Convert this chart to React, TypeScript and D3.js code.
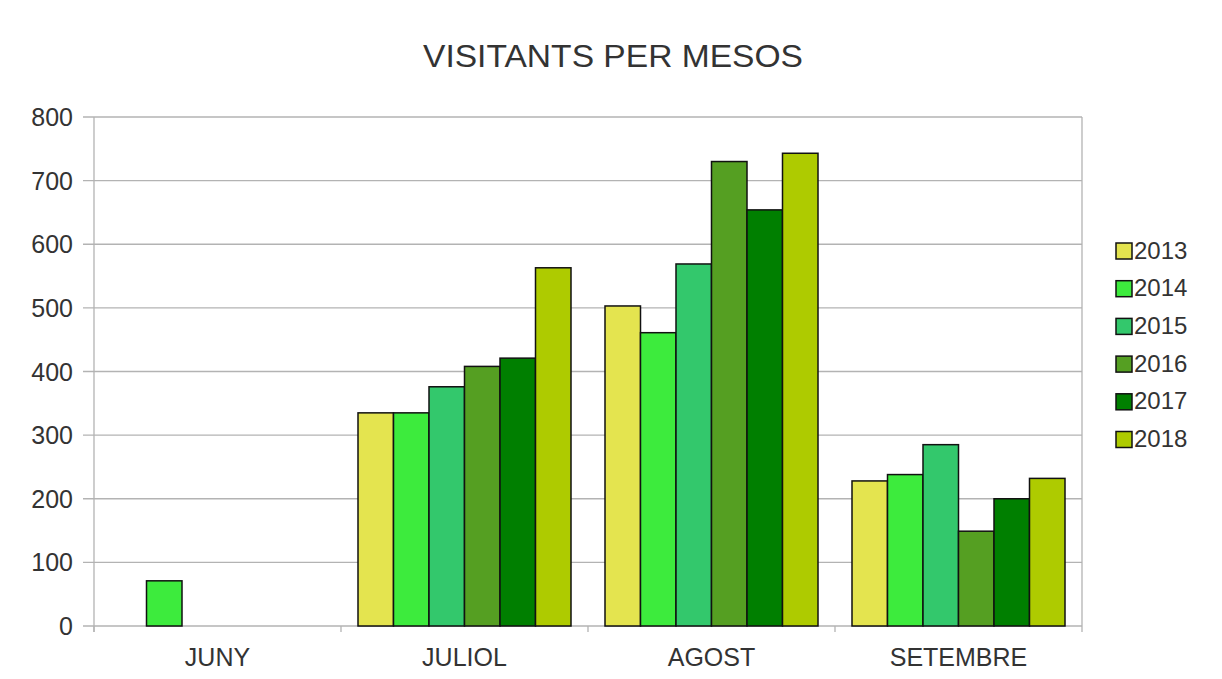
import React from 'react'
import * as d3 from 'd3'

const months = ['JUNY', 'JULIOL', 'AGOST', 'SETEMBRE']
const years = ['2013', '2014', '2015', '2016', '2017', '2018']
const colors = ['#e4e44f', '#3deb3d', '#33c86c', '#559f22', '#007f00', '#aecb00']

// visitants per any, un valor per mes (null = sense dada)
const v2013 = [null, 335, 503, 228]
const v2014 = [71, 335, 461, 238]
const v2015 = [null, 376, 569, 285]
const v2016 = [null, 408, 730, 149]
const v2017 = [null, 421, 654, 200]
const v2018 = [null, 563, 743, 232]
const series = [v2013, v2014, v2015, v2016, v2017, v2018]

const yTicks = [0, 100, 200, 300, 400, 500, 600, 700, 800]

const W = 1222
const H = 679
const margin = { top: 117, right: 140, bottom: 53, left: 94 }

export default function App() {
  const plotW = W - margin.left - margin.right
  const plotH = H - margin.top - margin.bottom

  const x = d3.scaleBand().domain(months).range([0, plotW]).paddingInner(0).paddingOuter(0)
  const inner = d3.scaleBand().domain(years).range([17, x.bandwidth() - 17])
  const y = d3.scaleLinear().domain([0, 800]).range([plotH, 0])

  const font = '"Liberation Sans", Arial, sans-serif'

  return (
    <svg width={W} height={H} style={{ position: 'absolute', left: 0, top: 0, background: '#fff' }}>
      <text x={613} y={67} textAnchor="middle" fontFamily={font} fontSize={32} fill="#333" textLength={380} lengthAdjust="spacingAndGlyphs">
        VISITANTS PER MESOS
      </text>
      <g transform={`translate(${margin.left},${margin.top})`}>
        {yTicks.map(t => (
          <g key={t}>
            <line x1={-11} x2={plotW} y1={y(t)} y2={y(t)} stroke="#b3b3b3" strokeWidth={1.3} />
            <text x={-21} y={y(t)} dy="0.36em" textAnchor="end" fontFamily={font} fontSize={25} fill="#333">
              {t}
            </text>
          </g>
        ))}
        <line x1={0} x2={0} y1={0} y2={plotH + 6} stroke="#b3b3b3" strokeWidth={1.3} />
        <line x1={plotW} x2={plotW} y1={0} y2={plotH + 6} stroke="#b3b3b3" strokeWidth={1.3} />
        {months.map(m => (
          <g key={m}>
            <line x1={x(m)!} x2={x(m)!} y1={plotH} y2={plotH + 6} stroke="#b3b3b3" strokeWidth={1.3} />
            <text x={x(m)! + x.bandwidth() / 2} y={plotH + 40} textAnchor="middle" fontFamily={font} fontSize={25} fill="#333">
              {m}
            </text>
          </g>
        ))}
        {series.map((vals, si) =>
          vals.map((v, mi) =>
            v == null ? null : (
              <rect
                key={`${si}-${mi}`}
                x={x(months[mi])! + inner(years[si])!}
                y={y(v)}
                width={inner.bandwidth()}
                height={plotH - y(v)}
                fill={colors[si]}
                stroke="#111"
                strokeWidth={1.5}
              />
            )
          )
        )}
      </g>
      <g transform="translate(1116,250)">
        {years.map((yr, i) => (
          <g key={yr} transform={`translate(0,${i * 37.7})`}>
            <rect x={0} y={-7} width={16} height={16} fill={colors[i]} stroke="#111" strokeWidth={1.5} />
            <text x={18} y={0} dy="0.36em" fontFamily={font} fontSize={24} fill="#333">
              {yr}
            </text>
          </g>
        ))}
      </g>
    </svg>
  )
}
